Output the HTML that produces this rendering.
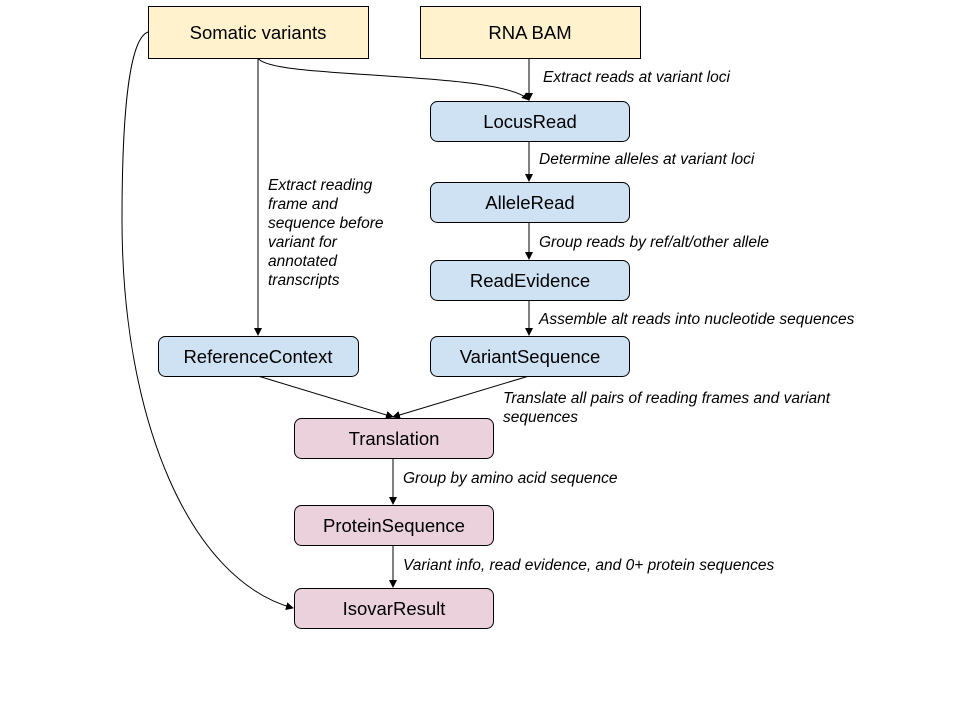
<!DOCTYPE html>
<html><head><style>body{margin:0;background:#fff}svg{display:block}</style></head><body>
<svg width="960" height="720" xmlns="http://www.w3.org/2000/svg" font-family="Liberation Sans, sans-serif">
<defs><marker id="a" markerWidth="8" markerHeight="8" refX="7" refY="4" orient="auto" markerUnits="userSpaceOnUse"><path d="M0,0 L8,4 L0,8 z" fill="#000"/></marker></defs>
<g stroke="#000" stroke-width="1" fill="none">
<path d="M258,58 L258,335" marker-end="url(#a)"/>
<path d="M258,58 C270,80 500,70 529,100" marker-end="url(#a)"/>
<path d="M529,58 L529,100" marker-end="url(#a)"/>
<path d="M529,141 L529,181" marker-end="url(#a)"/>
<path d="M529,222 L529,259" marker-end="url(#a)"/>
<path d="M529,300 L529,335" marker-end="url(#a)"/>
<path d="M258,376 L393,417" marker-end="url(#a)"/>
<path d="M529,376 L393,417" marker-end="url(#a)"/>
<path d="M393,458 L393,504" marker-end="url(#a)"/>
<path d="M393,545 L393,587" marker-end="url(#a)"/>
<path d="M148,32 C125,40 122,150 122,220 C122,420 190,580 293,608" marker-end="url(#a)"/>
</g>
<g stroke="#000" stroke-width="1">
<rect x="148.5" y="6.5" width="220" height="52" fill="#fff2cc"/>
<rect x="420.5" y="6.5" width="220" height="52" fill="#fff2cc"/>
<g fill="#cfe2f3">
<rect x="430.5" y="101.5" width="199" height="40" rx="7"/>
<rect x="430.5" y="182.5" width="199" height="40" rx="7"/>
<rect x="430.5" y="260.5" width="199" height="40" rx="7"/>
<rect x="430.5" y="336.5" width="199" height="40" rx="7"/>
<rect x="158.5" y="336.5" width="200" height="40" rx="7"/>
</g>
<g fill="#ead1dc">
<rect x="294.5" y="418.5" width="199" height="40" rx="7"/>
<rect x="294.5" y="505.5" width="199" height="40" rx="7"/>
<rect x="294.5" y="588.5" width="199" height="40" rx="7"/>
</g>
</g>
<g font-size="18.5" text-anchor="middle" fill="#000">
<text x="258" y="39">Somatic variants</text>
<text x="530" y="39">RNA BAM</text>
<text x="530" y="128">LocusRead</text>
<text x="530" y="209">AlleleRead</text>
<text x="530" y="287">ReadEvidence</text>
<text x="530" y="363">VariantSequence</text>
<text x="258" y="363">ReferenceContext</text>
<text x="394" y="445">Translation</text>
<text x="394" y="532">ProteinSequence</text>
<text x="394" y="615">IsovarResult</text>
</g>
<g font-size="15.5" font-style="italic" fill="#000">
<text x="543" y="82">Extract reads at variant loci</text>
<text x="539" y="164">Determine alleles at variant loci</text>
<text x="539" y="247">Group reads by ref/alt/other allele</text>
<text x="539" y="324">Assemble alt reads into nucleotide sequences</text>
<text x="503" y="403">Translate all pairs of reading frames and variant</text>
<text x="503" y="422">sequences</text>
<text x="403" y="483">Group by amino acid sequence</text>
<text x="403" y="570">Variant info, read evidence, and 0+ protein sequences</text>
<text x="268" y="190">Extract reading</text>
<text x="268" y="209">frame and</text>
<text x="268" y="228">sequence before</text>
<text x="268" y="247">variant for</text>
<text x="268" y="266">annotated</text>
<text x="268" y="285">transcripts</text>
</g>
</svg>
</body></html>
